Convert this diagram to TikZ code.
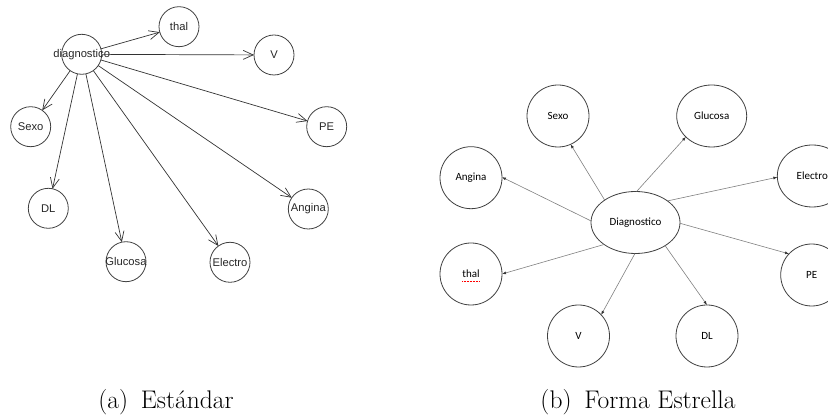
\documentclass[tikz,border=0pt]{standalone}
\usepackage{fontspec}
\setmainfont{Latin Modern Roman}
\newfontfamily\rfont{Liberation Sans}
\newfontfamily\wfont{Carlito}
\usetikzlibrary{arrows.meta,shapes.geometric}

\begin{document}
\begin{tikzpicture}[x=1pt,y=-1pt,
  % graph drawn in the R style (left)
  rnode/.style={circle,draw=black!75,line width=0.8pt,minimum size=40pt,inner sep=0pt,outer sep=0pt},
  rtext/.style={font=\rfont\fontsize{11.2}{13}\selectfont,text=black!85,inner sep=0pt},
  rarr/.style={draw=black!80,line width=0.7pt,-{Straight Barb[length=10pt,width=9pt,line width=0.7pt]}},
  % star-shaped graph (right)
  wnode/.style={circle,draw=black!75,line width=0.8pt,minimum size=62pt,inner sep=0pt,outer sep=0pt,
                font=\wfont\fontsize{11}{13}\selectfont},
  wwide/.style={wnode,ellipse,minimum width=70pt,minimum height=62pt},
  wcenter/.style={wnode,ellipse,minimum width=89pt,minimum height=62pt},
  warr/.style={draw=black!50,line width=0.6pt,-{Latex[length=4pt,width=3pt,black!80]}},
  squig/.style={draw=red,line width=0.6pt,dash pattern=on 1pt off 0.5pt},
  captext/.style={font=\fontsize{25.5}{30}\selectfont,anchor=base,inner sep=0pt}
]
\useasboundingbox (0,0) rectangle (828,419);
\clip (0,0) rectangle (828,419);

% ---------- (a) standard layout ----------
\node[rnode,label={[rtext]center:diagnostico}] (ad)  at (81.7,54.3) {};
\node[rnode,label={[rtext]center:thal}]        (at)  at (179,26.7) {};
\node[rnode,label={[rtext]center:V}]           (av)  at (274,55) {};
\node[rnode,label={[rtext]center:Sexo}]        (as)  at (30.7,126.7) {};
\node[rnode,label={[rtext]center:PE}]          (ap)  at (326.7,126.7) {};
\node[rnode,label={[rtext]center:DL}]          (adl) at (48.3,208.3) {};
\node[rnode,label={[rtext]center:Angina}]      (aa)  at (308.3,209) {};
\node[rnode,label={[rtext]center:Glucosa}]     (ag)  at (126,261.7) {};
\node[rnode,label={[rtext]center:Electro}]     (ae)  at (230,262.3) {};

\foreach \t in {at,av,as,ap,adl,aa,ag,ae}
  \draw[rarr] (ad) -- (\t);

% ---------- (b) star layout ----------
\node[wcenter] (bd)  at (635.5,222.5) {Diagnostico};
\node[wnode]   (bs)  at (558,116)     {Sexo};
\node[wwide]   (bg)  at (711.7,116)   {Glucosa};
\node[wnode]   (ba)  at (471,177.7)   {Angina};
\node[wwide]   (be)  at (812.3,176)   {Electro};
\node[wnode]   (bt)  at (471,274)     {thal};
\node[wnode]   (bp)  at (811.7,275)   {PE};
\node[wnode]   (bv)  at (578.5,336)   {V};
\node[wnode]   (bdl) at (707,336)     {DL};

\draw[warr] (bd.144) -- (bs.294);
\draw[warr] (bd.88)  -- (bg.219);
\draw[warr] (bd.34)  -- (be.182);
\draw[warr] (bd.178) -- (ba.1);
\draw[warr] (bd.359) -- (bp.137);
\draw[warr] (bd.215) -- (bt.0);
\draw[warr] (bd.269) -- (bv.43);
\draw[warr] (bd.322) -- (bdl.90);

% spell-check mark under "thal"
\draw[squig] ([xshift=-9pt,yshift=-7pt]bt.center) -- ([xshift=9pt,yshift=-7pt]bt.center);

% ---------- captions ----------
\node[captext] (capa) at (166,409) {(a)\hspace{0.5em}Estándar};
\node[captext] (capb) at (638,409) {(b)\hspace{0.5em}Forma Estrella};
\end{tikzpicture}
\end{document}
